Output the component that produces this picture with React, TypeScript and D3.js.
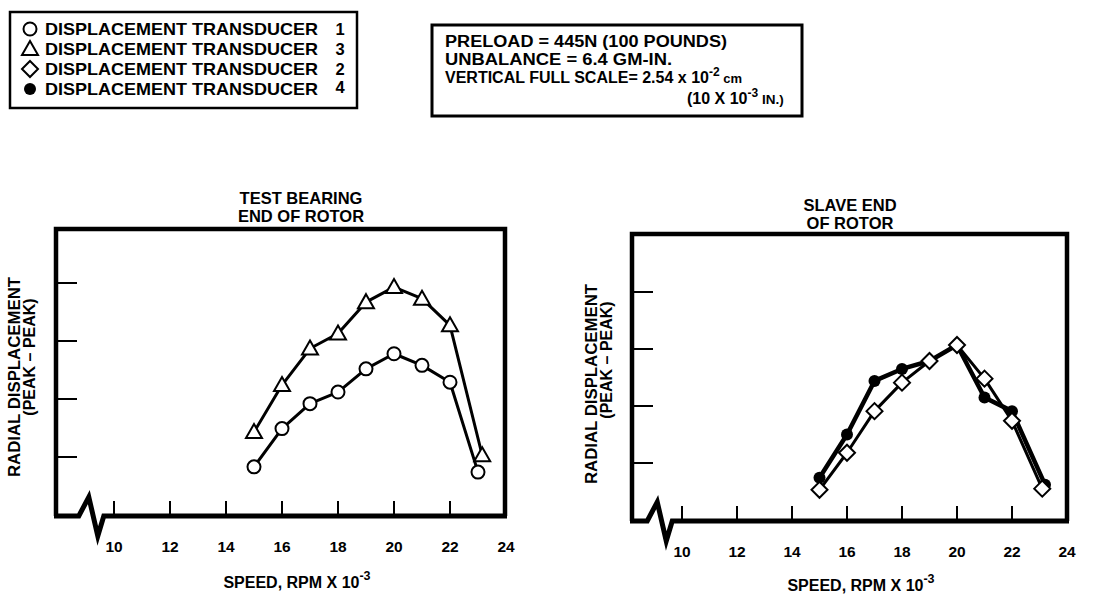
import React, { useEffect, useRef } from 'react';
import * as d3 from 'd3';

// speed axis (RPM x 10^-3) and displacement ticks (divisions of full scale)
const speedTicks = [10, 12, 14, 16, 18, 20, 22, 24];
const dispTicks = [1, 2, 3, 4];

// test bearing end of rotor
const t1Speed = [15, 16, 17, 18, 19, 20, 21, 22, 23];
const t1Disp = [0.83, 1.49, 1.92, 2.12, 2.52, 2.78, 2.58, 2.29, 0.74];
const t3Speed = [15, 16, 17, 18, 19, 20, 21, 22, 23.15];
const t3Disp = [1.43, 2.24, 2.87, 3.13, 3.67, 3.93, 3.73, 3.27, 1.03];

// slave end of rotor
const t2Speed = [15, 16, 17, 18, 19, 20, 21, 22, 23.1];
const t2Disp = [0.53, 1.18, 1.91, 2.41, 2.79, 3.07, 2.48, 1.74, 0.55];
const t4Speed = [15, 16, 17, 18, 19, 20, 21, 22, 23.2];
const t4Disp = [0.74, 1.5, 2.44, 2.65, 2.79, 3.07, 2.15, 1.91, 0.62];

const legendMarks = ['circle', 'triangle', 'diamond', 'dot'];
const legendNums = ['1', '3', '2', '4'];

const FONT = '"Liberation Sans", Arial, Helvetica, sans-serif';

/* drawMarker: appends one open/filled symbol at x,y */
function drawMarker(g, kind, x, y) {
  if (kind === 'circle') {
    g.append('circle').attr('cx', x).attr('cy', y).attr('r', 6.5)
      .attr('fill', '#fff').attr('stroke', '#000').attr('stroke-width', 2);
  } else if (kind === 'dot') {
    g.append('circle').attr('cx', x).attr('cy', y).attr('r', 6)
      .attr('fill', '#000');
  } else if (kind === 'triangle') {
    g.append('path').attr('d', `M${x},${y - 8} L${x + 8},${y + 6} L${x - 8},${y + 6} Z`)
      .attr('fill', '#fff').attr('stroke', '#000').attr('stroke-width', 2).attr('stroke-linejoin', 'miter');
  } else {
    g.append('path').attr('d', `M${x},${y - 8} L${x + 8},${y} L${x},${y + 8} L${x - 8},${y} Z`)
      .attr('fill', '#fff').attr('stroke', '#000').attr('stroke-width', 2);
  }
}

/* drawPanel: frame with broken speed axis, ticks, titles and the two series */
function drawPanel(svg, p) {
  const x = d3.scaleLinear().domain([10, 24]).range(p.xRange);
  const y = d3.scaleLinear().domain([0, 4]).range(p.yRange);
  const g = svg.append('g');
  const bottom = y(0) + 1;
  const bx = x(9.1);

  // frame: top, right, left
  g.append('path')
    .attr('d', `M${p.left},${bottom} L${p.left},${p.top} L${p.right},${p.top} L${p.right},${bottom}`)
    .attr('fill', 'none').attr('stroke', '#000').attr('stroke-width', 4.5).attr('stroke-linejoin', 'miter');
  // bottom axis with break
  g.append('path')
    .attr('d', `M${p.left - 2},${bottom} L${bx - 10},${bottom} L${bx},${bottom - 19} L${bx + 9},${bottom + 20} L${bx + 15},${bottom} L${p.right + 2},${bottom}`)
    .attr('fill', 'none').attr('stroke', '#000').attr('stroke-width', 5).attr('stroke-linejoin', 'miter');

  // ticks
  g.selectAll('.xt').data(speedTicks.slice(0, -1)).enter().append('line')
    .attr('x1', d => x(d)).attr('x2', d => x(d)).attr('y1', bottom).attr('y2', bottom - 15)
    .attr('stroke', '#000').attr('stroke-width', 2);
  g.selectAll('.yt').data(dispTicks).enter().append('line')
    .attr('x1', p.left).attr('x2', p.left + 21).attr('y1', d => y(d)).attr('y2', d => y(d))
    .attr('stroke', '#000').attr('stroke-width', 2);
  g.selectAll('.xl').data(speedTicks).enter().append('text')
    .attr('x', d => x(d)).attr('y', bottom + 36).attr('text-anchor', 'middle')
    .attr('font-size', 15.5).attr('font-weight', 'bold').attr('font-family', FONT)
    .text(d => d);

  // titles
  p.title.forEach((t, i) => {
    g.append('text').attr('x', p.titleX).attr('y', p.titleY + i * 18).attr('text-anchor', 'middle')
      .attr('font-size', 16.5).attr('font-weight', 'bold').attr('font-family', FONT).text(t);
  });

  // speed title
  const st = g.append('text').attr('x', p.speedX).attr('y', p.speedY).attr('text-anchor', 'middle')
    .attr('font-size', 16).attr('font-weight', 'bold').attr('font-family', FONT);
  st.append('tspan').text('SPEED, RPM X 10');
  st.append('tspan').attr('dy', -8).attr('font-size', 12.5).text('-3');

  // displacement title
  const yl = g.append('g').attr('transform', `translate(${p.ylabX},${p.ylabY}) rotate(-90)`);
  yl.append('text').attr('x', 0).attr('y', 0).attr('text-anchor', 'middle')
    .attr('font-size', 16).attr('font-weight', 'bold').attr('font-family', FONT)
    .attr('textLength', 200).attr('lengthAdjust', 'spacingAndGlyphs')
    .text('RADIAL DISPLACEMENT');
  yl.append('text').attr('x', p.peakShift).attr('y', 15).attr('text-anchor', 'middle')
    .attr('font-size', 16).attr('font-weight', 'bold').attr('font-family', FONT)
    .text('(PEAK \u2013 PEAK)');

  // series
  const line = d3.line().x(d => x(d[0])).y(d => y(d[1]));
  p.series.forEach(s => {
    const pts = d3.zip(s.speed, s.disp);
    g.append('path').attr('d', line(pts)).attr('fill', 'none').attr('stroke', '#000')
      .attr('stroke-width', s.width).attr('stroke-linejoin', 'round');
  });
  p.series.forEach(s => {
    d3.zip(s.speed, s.disp).forEach(d => drawMarker(g, s.mark, x(d[0]), y(d[1])));
  });
}

export default function App() {
  const ref = useRef(null);
  useEffect(() => {
    const svg = d3.select(ref.current);
    svg.selectAll('*').remove();

    // legend box
    svg.append('rect').attr('x', 10).attr('y', 12).attr('width', 347).attr('height', 96)
      .attr('fill', 'none').attr('stroke', '#000').attr('stroke-width', 2.5);
    legendMarks.forEach((m, i) => {
      const cy = 29 + i * 20;
      drawMarker(svg, m, 30, cy);
      svg.append('text').attr('x', 45).attr('y', cy + 6).attr('font-size', 16.5).attr('font-weight', 'bold')
        .attr('font-family', FONT).attr('textLength', 273).attr('lengthAdjust', 'spacingAndGlyphs')
        .text('DISPLACEMENT TRANSDUCER');
      svg.append('text').attr('x', 340).attr('y', cy + 6 - (i === 3 ? 2 : 0)).attr('text-anchor', 'middle')
        .attr('font-size', 16.5).attr('font-weight', 'bold').attr('font-family', FONT).text(legendNums[i]);
    });

    // test conditions box
    svg.append('rect').attr('x', 432).attr('y', 25).attr('width', 370).attr('height', 91)
      .attr('fill', 'none').attr('stroke', '#000').attr('stroke-width', 3);
    const info = (txt, x0, yb, len) => svg.append('text').attr('x', x0).attr('y', yb)
      .attr('font-size', 16).attr('font-weight', 'bold').attr('font-family', FONT)
      .attr('textLength', len).attr('lengthAdjust', 'spacingAndGlyphs').text(txt);
    info('PRELOAD = 445N (100 POUNDS)', 445, 47, 282);
    info('UNBALANCE = 6.4 GM-IN.', 445, 65, 227);
    const l3 = svg.append('text').attr('x', 445).attr('y', 83).attr('font-size', 16)
      .attr('font-weight', 'bold').attr('font-family', FONT);
    l3.append('tspan').text('VERTICAL FULL SCALE= 2.54 x 10');
    l3.append('tspan').attr('dy', -7).attr('font-size', 12).text('-2');
    l3.append('tspan').attr('dy', 7).attr('font-size', 13).text(' cm');
    const l4 = svg.append('text').attr('x', 687).attr('y', 104).attr('font-size', 16)
      .attr('font-weight', 'bold').attr('font-family', FONT);
    l4.append('tspan').text('(10 X 10');
    l4.append('tspan').attr('dy', -7).attr('font-size', 12).text('-3');
    l4.append('tspan').attr('dy', 7).attr('font-size', 13.5).text(' IN.)');

    drawPanel(svg, {
      left: 56, right: 505, top: 229, xRange: [114, 506], yRange: [515, 283],
      title: ['TEST BEARING', 'END OF ROTOR'], titleX: 301, titleY: 204,
      speedX: 297, speedY: 588, ylabX: 20, ylabY: 377, peakShift: 20,
      series: [
        { speed: t1Speed, disp: t1Disp, mark: 'circle', width: 3 },
        { speed: t3Speed, disp: t3Disp, mark: 'triangle', width: 3 },
      ],
    });
    drawPanel(svg, {
      left: 632, right: 1067, top: 234, xRange: [682, 1067], yRange: [520, 292],
      title: ['SLAVE END', 'OF ROTOR'], titleX: 850, titleY: 211,
      speedX: 861, speedY: 591, ylabX: 597, ylabY: 384, peakShift: 24,
      series: [
        { speed: t4Speed, disp: t4Disp, mark: 'dot', width: 4.5 },
        { speed: t2Speed, disp: t2Disp, mark: 'diamond', width: 3 },
      ],
    });
  }, []);

  return (
    <div style={{ position: 'absolute', left: 0, top: 0, background: '#fff' }}>
      <svg ref={ref} width={1108} height={599} />
    </div>
  );
}
